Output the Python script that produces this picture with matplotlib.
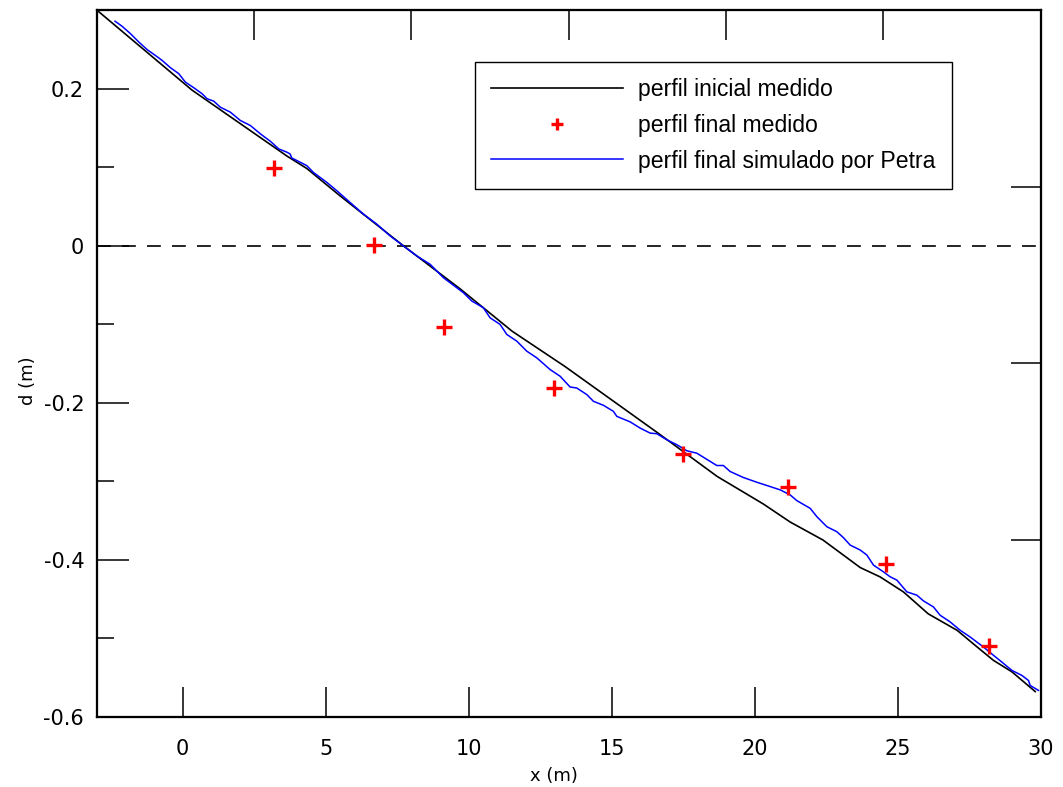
import matplotlib
matplotlib.use('Agg')
import matplotlib.pyplot as plt

# perfil inicial medido
init_x = [-3.0, 0.33, 3.65, 4.35, 5.5, 7.71, 9.7, 11.52, 13.37, 16.63, 18.69, 20.3,
          21.24, 22.39, 23.69, 24.39, 25.2, 26.07, 27.08, 27.64, 28.34, 29.0, 29.81]
init_y = [0.300, 0.198, 0.114, 0.098, 0.0635, 0.0, -0.055, -0.109, -0.154, -0.239,
          -0.294, -0.329, -0.352, -0.375, -0.41, -0.422, -0.441, -0.469, -0.49,
          -0.507, -0.528, -0.543, -0.568]

# perfil final medido
final_x = [3.2, 6.7, 9.15, 13.0, 17.5, 21.15, 24.6, 28.2]
final_y = [0.099, 0.001, -0.104, -0.182, -0.265, -0.307, -0.406, -0.510]

# perfil final simulado por Petra
sim_x = [-2.36, -2.115, -1.825, -1.531, -1.241, -1.007, -0.717, -0.427, -0.133, 0.098,
         0.392, 0.682, 0.857, 1.091, 1.322, 1.671, 2.021, 2.371, 2.72, 3.07, 3.364,
         3.654, 3.759, 3.818, 4.343, 4.573, 5.042, 5.392, 5.857, 6.322, 6.79, 7.255,
         7.72, 8.189, 8.654, 9.119, 9.353, 9.818, 10.112, 10.517, 10.752, 11.101,
         11.336, 11.685, 12.035, 12.385, 12.85, 13.199, 13.549, 13.783, 14.133, 14.364,
         14.713, 15.063, 15.182, 15.647, 15.997, 16.346, 16.58, 16.93, 17.28, 17.63,
         17.979, 18.451, 18.678, 18.909, 19.143, 19.608, 20.077, 20.542, 20.892,
         21.241, 21.476, 21.941, 22.175, 22.524, 22.874, 23.105, 23.339, 23.689,
         23.923, 24.154, 24.503, 24.738, 24.972, 25.322, 25.671, 25.902, 26.252,
         26.486, 26.836, 27.185, 27.535, 27.769, 28.0, 28.35, 28.643, 28.993, 29.343,
         29.573, 29.633, 29.923]
sim_y = [0.2857, 0.2793, 0.270, 0.2593, 0.2496, 0.2436, 0.2359, 0.2266, 0.2189, 0.2082,
         0.201, 0.1934, 0.187, 0.1839, 0.1762, 0.1699, 0.1593, 0.1529, 0.1423, 0.1328,
         0.1231, 0.1188, 0.1167, 0.1116, 0.1018, 0.0932, 0.0805, 0.0699, 0.0549, 0.0401,
         0.0273, 0.0124, -0.0004, -0.0132, -0.0238, -0.0409, -0.0473, -0.060, -0.0706,
         -0.0792, -0.092, -0.1004, -0.1132, -0.1217, -0.1345, -0.143, -0.1579, -0.1664,
         -0.1801, -0.1814, -0.1898, -0.1983, -0.2034, -0.2111, -0.2175, -0.2245,
         -0.2324, -0.2388, -0.2396, -0.2473, -0.2536, -0.2613, -0.2644, -0.275,
         -0.2801, -0.2801, -0.2877, -0.2954, -0.3014, -0.3069, -0.3111, -0.3175,
         -0.3248, -0.3346, -0.3452, -0.358, -0.3644, -0.372, -0.3814, -0.3877,
         -0.3941, -0.4069, -0.4155, -0.4218, -0.426, -0.441, -0.4452, -0.4525,
         -0.4602, -0.4708, -0.4793, -0.4899, -0.4985, -0.5049, -0.5112, -0.5218,
         -0.5304, -0.541, -0.5474, -0.5538, -0.5602, -0.5665]

x_ticks = [0, 5, 10, 15, 20, 25, 30]
y_ticks = [-0.6, -0.4, -0.2, 0, 0.2]
y_labels = ['-0.6', '-0.4', '-0.2', '0', '0.2']
y_minor = [-0.5, -0.3, -0.1, 0.1]

fig = plt.figure(figsize=(10.63, 7.87), dpi=100)
ax = fig.add_axes([0.091, 0.0893, 0.888, 0.898])

l1, = ax.plot(init_x, init_y, color='black', lw=1.2, label='perfil inicial medido')
l2, = ax.plot(final_x, final_y, ls='none', marker='+', ms=11, mew=2.4,
              color='#ff0000', label='perfil final medido', zorder=4)
l3, = ax.plot(sim_x, sim_y, color='#0000ff', lw=1.1,
              label='perfil final simulado por Petra', zorder=3)
ax.axhline(0, color='black', lw=1.2, dashes=(8.3, 6.7))

ax.set_xlim(-3, 30)
ax.set_ylim(-0.6, 0.3)
ax.set_xticks(x_ticks)
ax.set_yticks(y_ticks)
ax.set_yticklabels(y_labels)
ax.set_yticks(y_minor, minor=True)
ax.tick_params(axis='x', direction='in', length=21.6, width=1.1, pad=16,
               labelsize=15, labelfontfamily='DejaVu Sans')
ax.tick_params(axis='y', which='major', direction='in', length=23, width=1.1, pad=9,
               labelsize=15, labelfontfamily='DejaVu Sans')
ax.tick_params(axis='y', which='minor', direction='in', length=12, width=1.1)

ax.set_xlabel('x (m)', fontsize=13, family='DejaVu Sans')
ax.set_ylabel('d (m)', fontsize=13, family='DejaVu Sans')
ax.xaxis.set_label_coords(0.484, -0.071)
ax.yaxis.set_label_coords(-0.063, 0.476)

# frame ticks on top and right
axt = ax.twiny()
axt.set_xlim(0, 6)
axt.set_xticks(range(1, 6))
axt.tick_params(axis='x', direction='in', length=21.6, width=1.1, labeltop=False)
axr = ax.twinx()
axr.set_ylim(0, 4)
axr.set_yticks(range(0, 5))
axr.tick_params(axis='y', direction='in', length=21.6, width=1.1, labelright=False)

for a in (ax, axt, axr):
    for s in a.spines.values():
        s.set_linewidth(1.5)

leg = ax.legend(handles=[l1, l2, l3], loc='upper left', bbox_to_anchor=(0.4007, 0.9264),
                borderaxespad=0, fancybox=False, framealpha=1, edgecolor='black',
                prop={'family': 'Liberation Sans', 'size': 16.6}, handlelength=5.7,
                handletextpad=0.68, labelspacing=0.55, borderpad=0.7, markerscale=0.8)
leg.get_frame().set_linewidth(1.0)

fig.savefig('out.png', dpi=100)
